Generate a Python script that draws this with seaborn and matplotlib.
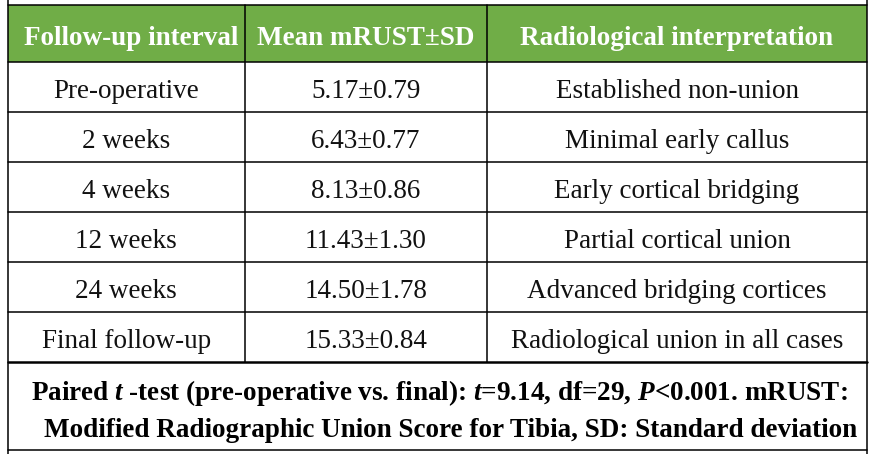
import matplotlib.pyplot as plt
import seaborn as sns
from matplotlib.patches import Rectangle

# table content
headers = ['Follow-up interval', 'Mean mRUST±SD', 'Radiological interpretation']
intervals = ['Pre-operative', '2 weeks', '4 weeks', '12 weeks', '24 weeks', 'Final follow-up']
means = [5.17, 6.43, 8.13, 11.43, 14.50, 15.33]
sds = [0.79, 0.77, 0.86, 1.30, 1.78, 0.84]
interpretations = ['Established non-union', 'Minimal early callus', 'Early cortical bridging',
                   'Partial cortical union', 'Advanced bridging cortices',
                   'Radiological union in all cases']
footnote = [r'Paired $t$ -test (pre-operative vs. final): $t$=9.14, df=29, $P$<0.001. mRUST:',
            'Modified Radiographic Union Score for Tibia, SD: Standard deviation']

sns.set_theme(style='white')
plt.rcParams['font.family'] = ['Liberation Serif', 'DejaVu Serif']
plt.rcParams['mathtext.fontset'] = 'custom'
plt.rcParams['mathtext.rm'] = 'Liberation Serif:bold'
plt.rcParams['mathtext.it'] = 'Liberation Serif:italic:bold'

green = '#70AD47'
fig = plt.figure(figsize=(8.74, 4.54), dpi=100)
ax = fig.add_axes([0, 0, 1, 1])
ax.set_xlim(0, 874)
ax.set_ylim(454, 0)
ax.axis('off')

# layout in pixel units
col_edges = [7.5, 245, 487, 867]
top = 5
head_h = 57
row_h = 50
foot_bottom = 450
lw = 1.1

rows = [[iv, f'{m:.2f}±{s:.2f}', it] for iv, m, s, it in zip(intervals, means, sds, interpretations)]
body_top = top + head_h
body_bottom = body_top + row_h * len(rows)

ax.add_patch(Rectangle((col_edges[0], top), col_edges[-1] - col_edges[0], head_h,
                       facecolor=green, edgecolor='none', zorder=0))

for j, h in enumerate(headers):
    cx = (col_edges[j] + col_edges[j + 1]) / 2
    ax.text(cx + (5 if j == 0 else 0), top + 40, h, ha='center', va='baseline',
            color='white', fontweight='bold', fontsize=19.5)

for i, r in enumerate(rows):
    y0 = body_top + row_h * i
    for j, val in enumerate(r):
        cx = (col_edges[j] + col_edges[j + 1]) / 2
        ax.text(cx, y0 + 36, val, ha='center', va='baseline', color='#111111', fontsize=19.5)

# grid lines
ax.plot([col_edges[0], col_edges[-1]], [top, top], color='black', lw=lw)
for i in range(len(rows)):
    y = body_top + row_h * i
    ax.plot([col_edges[0], col_edges[-1]], [y, y], color='black', lw=lw)
ax.plot([col_edges[0], col_edges[-1]], [body_bottom, body_bottom], color='black', lw=1.8)
ax.plot([col_edges[0], col_edges[-1]], [foot_bottom, foot_bottom], color='black', lw=lw)
for x in col_edges[1:-1]:
    ax.plot([x, x], [top, body_bottom], color='black', lw=lw)
for x in (col_edges[0], col_edges[-1]):
    ax.plot([x, x], [0, 454], color='black', lw=lw)

# footnote
ax.text(439, 400, footnote[0], ha='center', va='baseline', fontweight='bold',
        fontsize=19.5, color='black')
ax.text(451, 437, footnote[1], ha='center', va='baseline', fontweight='bold',
        fontsize=19.5, color='black')

fig.savefig('out.png', dpi=100)
